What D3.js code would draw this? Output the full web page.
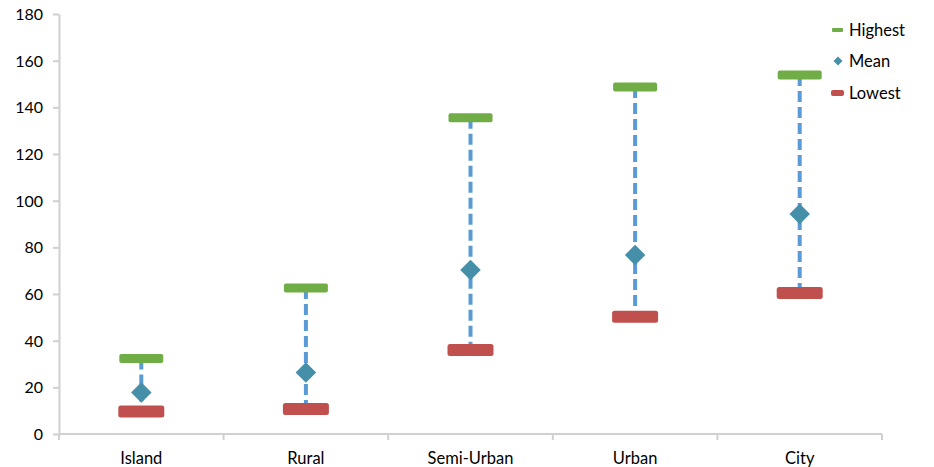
<html>
<script src='https://d3js.org/d3.v7.min.js'></script>
<style>
body {margin:0; background:#fff;}
text {font-family: Lato, 'Open Sans', sans-serif; font-size:16.5px; fill:#000;}
.axis path, .axis line {stroke:#d0d0d0; stroke-width:2;}
</style>
<body onload='init()'>
<svg width=934 height=467></svg>
<script>
var categories = ["Island", "Rural", "Semi-Urban", "Urban", "City"];
var highest = [32.4, 62.6, 135.5, 148.7, 153.9];
var mean    = [17.8, 26.4, 70.3, 76.7, 94.3];
var lowest  = [9.6, 10.7, 36.0, 50.3, 60.4];
var yTicks  = [0, 20, 40, 60, 80, 100, 120, 140, 160, 180];

function init() {
	var svg = d3.select('svg');
	var left = 59, right = 882, top = 14, bottom = 434;

	var x = d3.scaleBand().domain(categories).range([left, right]);
	var y = d3.scaleLinear().domain([0, 180]).range([bottom, top]);

	// y axis
	var ya = svg.append("g").attr("class", "axis")
		.attr("transform", "translate(" + left + ",0)")
		.call(d3.axisLeft(y).tickValues(yTicks).tickSize(6).tickPadding(10).tickSizeOuter(0));
	ya.selectAll("text").attr("dy", "0.35em").style("font-size", "16px").style("font-family", "Lato, sans-serif");

	// x axis: ticks on category boundaries
	var xa = svg.append("g").attr("class", "axis")
		.attr("transform", "translate(0," + bottom + ")");
	xa.append("line").attr("x1", left).attr("x2", right).attr("y1", 0).attr("y2", 0);
	var bounds = categories.map(function (c) { return x(c); }).concat([right]);
	xa.selectAll(".tk").data(bounds).enter().append("line")
		.attr("x1", function (d) { return d; }).attr("x2", function (d) { return d; })
		.attr("y1", 0).attr("y2", 6);
	xa.selectAll(".lbl").data(categories).enter().append("text")
		.attr("x", function (d) { return x(d) + x.bandwidth() / 2; })
		.attr("y", 30).attr("text-anchor", "middle").text(function (d) { return d; });

	var cx = function (i) { return x(categories[i]) + x.bandwidth() / 2; };
	var idx = d3.range(categories.length);

	// dashed ranges
	svg.selectAll(".rng").data(idx).enter().append("line")
		.attr("x1", cx).attr("x2", cx)
		.attr("y1", function (i) { return y(highest[i]); })
		.attr("y2", function (i) { return y(lowest[i]); })
		.attr("stroke", "#5b9bd5").attr("stroke-width", 4).attr("stroke-dasharray", "11,5");

	// highest
	svg.selectAll(".hi").data(idx).enter().append("rect")
		.attr("x", function (i) { return cx(i) - 22; })
		.attr("y", function (i) { return y(highest[i]) - 4.5; })
		.attr("width", 44).attr("height", 9).attr("rx", 2)
		.attr("fill", "#70ad47");

	// lowest
	svg.selectAll(".lo").data(idx).enter().append("rect")
		.attr("x", function (i) { return cx(i) - 23; })
		.attr("y", function (i) { return y(lowest[i]) - 6; })
		.attr("width", 46).attr("height", 12).attr("rx", 2.5)
		.attr("fill", "#c0504d");

	// mean
	var diamond = d3.symbol().type(d3.symbolSquare).size(210);
	svg.selectAll(".mn").data(idx).enter().append("path")
		.attr("d", diamond)
		.attr("transform", function (i) { return "translate(" + cx(i) + "," + y(mean[i]) + ") rotate(45)"; })
		.attr("fill", "#4590a8");

	// legend
	var lg = svg.append("g");
	lg.append("rect").attr("x", 832).attr("y", 28).attr("width", 11).attr("height", 4).attr("rx", 1).attr("fill", "#70ad47");
	lg.append("path").attr("d", d3.symbol().type(d3.symbolSquare).size(40))
		.attr("transform", "translate(838,61) rotate(45)").attr("fill", "#4590a8");
	lg.append("rect").attr("x", 831).attr("y", 90).attr("width", 13).attr("height", 6).attr("rx", 2).attr("fill", "#c0504d");
	var names = ["Highest", "Mean", "Lowest"];
	lg.selectAll("text").data(names).enter().append("text")
		.attr("x", 849).attr("y", function (d, i) { return 30 + i * 31.5; })
		.attr("dy", "0.35em").text(function (d) { return d; });
}
</script>
</body>
</html>
